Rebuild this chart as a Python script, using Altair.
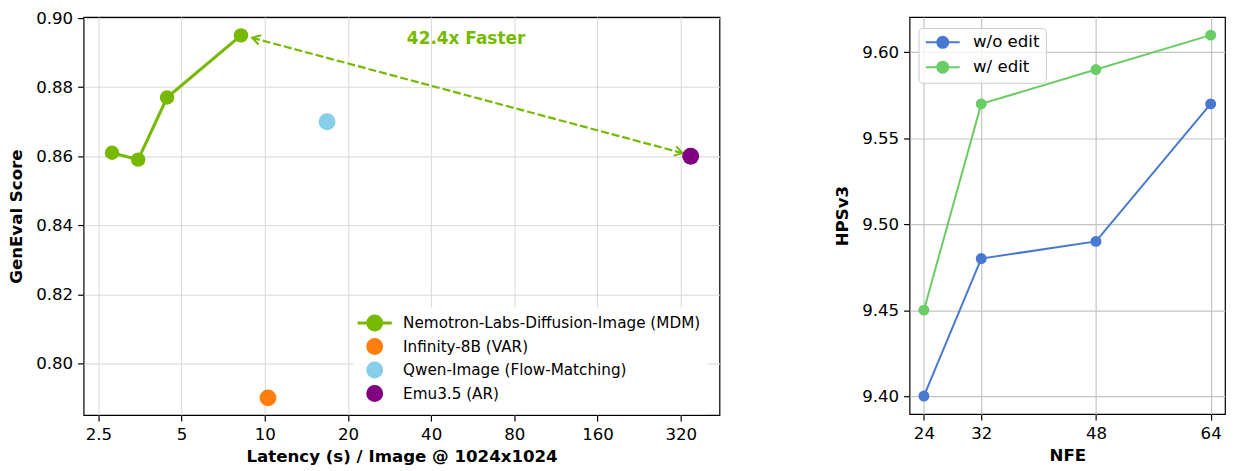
import math
import altair as alt
import pandas as pd

# ---------------- data: left panel ----------------
nemo_name = "Nemotron-Labs-Diffusion-Image (MDM)"
nemo_latency = [2.80, 3.48, 4.43, 8.2]
nemo_score = [0.861, 0.859, 0.877, 0.895]

other_models = ["Infinity-8B (VAR)", "Qwen-Image (Flow-Matching)", "Emu3.5 (AR)"]
other_latency = [10.27, 16.8, 347.7]
other_score = [0.790, 0.870, 0.860]

legend_models = [nemo_name] + other_models
model_colors = ["#76b900", "#ff7f0e", "#87ceeb", "#800080"]

x_ticks = [2.5, 5, 10, 20, 40, 80, 160, 320]
y_ticks = [0.80, 0.82, 0.84, 0.86, 0.88, 0.90]

arrow_latency = [9.0, 325.0]
arrow_score = [0.8943, 0.8609]
speedup_text = ["42.4x Faster"]
speedup_latency = [53.5]
speedup_score = [0.894]

# ---------------- data: right panel ----------------
nfe = [24, 32, 48, 64]
hps_wo_edit = [9.40, 9.48, 9.49, 9.57]
hps_w_edit = [9.45, 9.57, 9.59, 9.61]
series_names = ["w/o edit", "w/ edit"]
series_colors = ["#4878d0", "#6acc64"]
nfe_ticks = [24, 32, 48, 64]
hps_ticks = [9.40, 9.45, 9.50, 9.55, 9.60]

FONT = "DejaVu Sans"
GREEN = model_colors[0]

# ---------------- left panel ----------------
W1, H1 = 639, 400
xdom = [2.21, 442.0]
ydom = [0.785, 0.9003]
xs = alt.Scale(type="log", domain=xdom, nice=False, zero=False)
ys = alt.Scale(domain=ydom, nice=False, zero=False)

common_axis = dict(
    labelFont=FONT, labelFontSize=16.7, labelColor="black",
    titleFont=FONT, titleFontSize=16.7, titleFontWeight="bold", titleColor="black",
    tickColor="black", tickSize=6, tickWidth=1.2, domain=False,
    labelPadding=5,
)

x_axis_l = alt.Axis(values=x_ticks, format="~g", title="Latency (s) / Image @ 1024x1024",
                    gridColor="#dcdcdc", gridWidth=1.1, titlePadding=6, labelFlush=False,
                    **common_axis)
y_axis_l = alt.Axis(values=y_ticks, format=".2f", title="GenEval Score",
                    gridColor="#dcdcdc", gridWidth=1.1, titlePadding=10, **common_axis)

nemo_df = pd.DataFrame({"lat": nemo_latency, "score": nemo_score})
other_df = pd.DataFrame({"lat": other_latency, "score": other_score, "model": other_models})
legend_df = pd.DataFrame({"lat": [nemo_latency[-1]] + other_latency,
                          "score": [nemo_score[-1]] + other_score,
                          "model": legend_models})

X = alt.X("lat:Q", scale=xs, axis=x_axis_l)
Y = alt.Y("score:Q", scale=ys, axis=y_axis_l)

color_scale = alt.Scale(domain=legend_models, range=model_colors)

nemo_line = alt.Chart(nemo_df).mark_line(color=GREEN, strokeWidth=3).encode(x=X, y=Y)
nemo_pts = alt.Chart(nemo_df).mark_circle(color=GREEN, size=210, opacity=1).encode(x=X, y=Y)
other_pts = alt.Chart(other_df).mark_circle(size=289, opacity=1).encode(
    x=X, y=Y, color=alt.Color("model:N", scale=color_scale, legend=None))

# arrow between fastest Nemotron point and Emu3.5
arrow_df = pd.DataFrame({"lat": [arrow_latency[0]], "score": [arrow_score[0]],
                         "lat2": [arrow_latency[1]], "score2": [arrow_score[1]]})
arrow = alt.Chart(arrow_df).mark_rule(color=GREEN, strokeWidth=2.2, strokeDash=[8, 3]).encode(
    x=X, y=Y, x2="lat2:Q", y2="score2:Q")


def px_x(v):
    return W1 * (math.log(v) - math.log(xdom[0])) / (math.log(xdom[1]) - math.log(xdom[0]))


def px_y(v):
    return H1 * (ydom[1] - v) / (ydom[1] - ydom[0])


dx = px_x(arrow_latency[1]) - px_x(arrow_latency[0])
dy = px_y(arrow_score[1]) - px_y(arrow_score[0])
ang_end = math.degrees(math.atan2(dy, dx)) % 360
ang_start = (ang_end + 180) % 360
heads_df = pd.DataFrame({"lat": arrow_latency, "score": arrow_score, "ang": [ang_start, ang_end]})
chevron = "M -1 -0.6 L 0 0 L -1 0.6"
heads = alt.Chart(heads_df).mark_point(shape=chevron, filled=False, color=GREEN, strokeWidth=2,
                                       size=256, opacity=1).encode(
    x=X, y=Y, angle=alt.Angle("ang:Q", scale=None))

label_df = pd.DataFrame({"lat": speedup_latency, "score": speedup_score, "t": speedup_text})
label = alt.Chart(label_df).mark_text(font=FONT, fontSize=17, fontWeight="bold", color=GREEN).encode(
    x=X, y=Y, text="t:N")

circ = "M -1 0 A 1 1 0 1 1 1 0 A 1 1 0 1 1 -1 0 Z"
line_circ_l = "M -2.45 0 L 2.45 0 " + circ
legend_l = alt.Legend(title=None, orient="none", legendX=271, legendY=292,
                      labelFont=FONT, labelFontSize=15.3, labelColor="black", labelLimit=0,
                      symbolSize=196, symbolStrokeWidth=3, symbolOffset=6, labelOffset=20,
                      rowPadding=-3.4,
                      fillColor="white", padding=7, symbolOpacity=1)
legend_layer_l = alt.Chart(legend_df).transform_filter("datum.score < 0").mark_point(
    filled=True, opacity=1, size=196, strokeWidth=3).encode(
    x=X, y=Y,
    color=alt.Color("model:N", scale=color_scale, legend=legend_l),
    stroke=alt.Stroke("model:N", scale=color_scale, legend=legend_l),
    shape=alt.Shape("model:N", scale=alt.Scale(domain=legend_models,
                                               range=[line_circ_l, circ, circ, circ]),
                    legend=legend_l),
)

left = alt.layer(legend_layer_l, nemo_line, arrow, heads, nemo_pts, other_pts, label).properties(
    width=W1, height=H1)

# ---------------- right panel ----------------
W2, H2 = 317, 399
xs2 = alt.Scale(domain=[22, 66], nice=False, zero=False)
ys2 = alt.Scale(domain=[9.3895, 9.6205], nice=False, zero=False)
x_axis_r = alt.Axis(values=nfe_ticks, format="d", title="NFE", gridColor="#c4c4c4", gridWidth=1.2,
                    titlePadding=6, **common_axis)
y_axis_r = alt.Axis(values=hps_ticks, format=".2f", title="HPSv3", gridColor="#c4c4c4",
                    gridWidth=1.2, titlePadding=10, **common_axis)

right_df = pd.DataFrame({
    "nfe": nfe + nfe,
    "hps": hps_wo_edit + hps_w_edit,
    "series": [series_names[0]] * len(nfe) + [series_names[1]] * len(nfe),
})
X2 = alt.X("nfe:Q", scale=xs2, axis=x_axis_r)
Y2 = alt.Y("hps:Q", scale=ys2, axis=y_axis_r)
series_scale = alt.Scale(domain=series_names, range=series_colors)

r_lines = alt.Chart(right_df).mark_line(strokeWidth=2).encode(
    x=X2, y=Y2, color=alt.Color("series:N", scale=series_scale, legend=None),
    detail="series:N")
r_pts = alt.Chart(right_df).mark_circle(size=121, opacity=1).encode(
    x=X2, y=Y2, color=alt.Color("series:N", scale=series_scale, legend=None))

line_circ_r = "M -3.1 0 L 3.1 0 " + circ
legend_r = alt.Legend(title=None, orient="none", legendX=9, legendY=11,
                      labelFont=FONT, labelFontSize=16.7, labelColor="black", labelLimit=0,
                      symbolSize=121, symbolStrokeWidth=2, symbolOffset=10, labelOffset=22,
                      rowPadding=5,
                      fillColor="rgba(255,255,255,0.8)", strokeColor="#cccccc",
                      cornerRadius=4, padding=6, symbolOpacity=1)
legend_layer_r = alt.Chart(right_df).transform_filter("datum.hps < 0").mark_point(
    filled=True, opacity=1, size=121, strokeWidth=2).encode(
    x=X2, y=Y2,
    color=alt.Color("series:N", scale=series_scale, legend=legend_r),
    stroke=alt.Stroke("series:N", scale=series_scale, legend=legend_r),
    shape=alt.Shape("series:N", scale=alt.Scale(domain=series_names,
                                                range=[line_circ_r, line_circ_r]),
                    legend=legend_r),
)

right = alt.layer(legend_layer_r, r_lines, r_pts).properties(width=W2, height=H2)

chart = alt.hconcat(left, right, spacing=114).resolve_scale(
    color="independent", stroke="independent", shape="independent"
).resolve_legend(
    color="independent", stroke="independent", shape="independent"
).properties(
    padding=0, background="white"
).configure_view(stroke="black", strokeWidth=1.2)

chart.save("out.html", embed_options={"renderer": "svg", "actions": False})
